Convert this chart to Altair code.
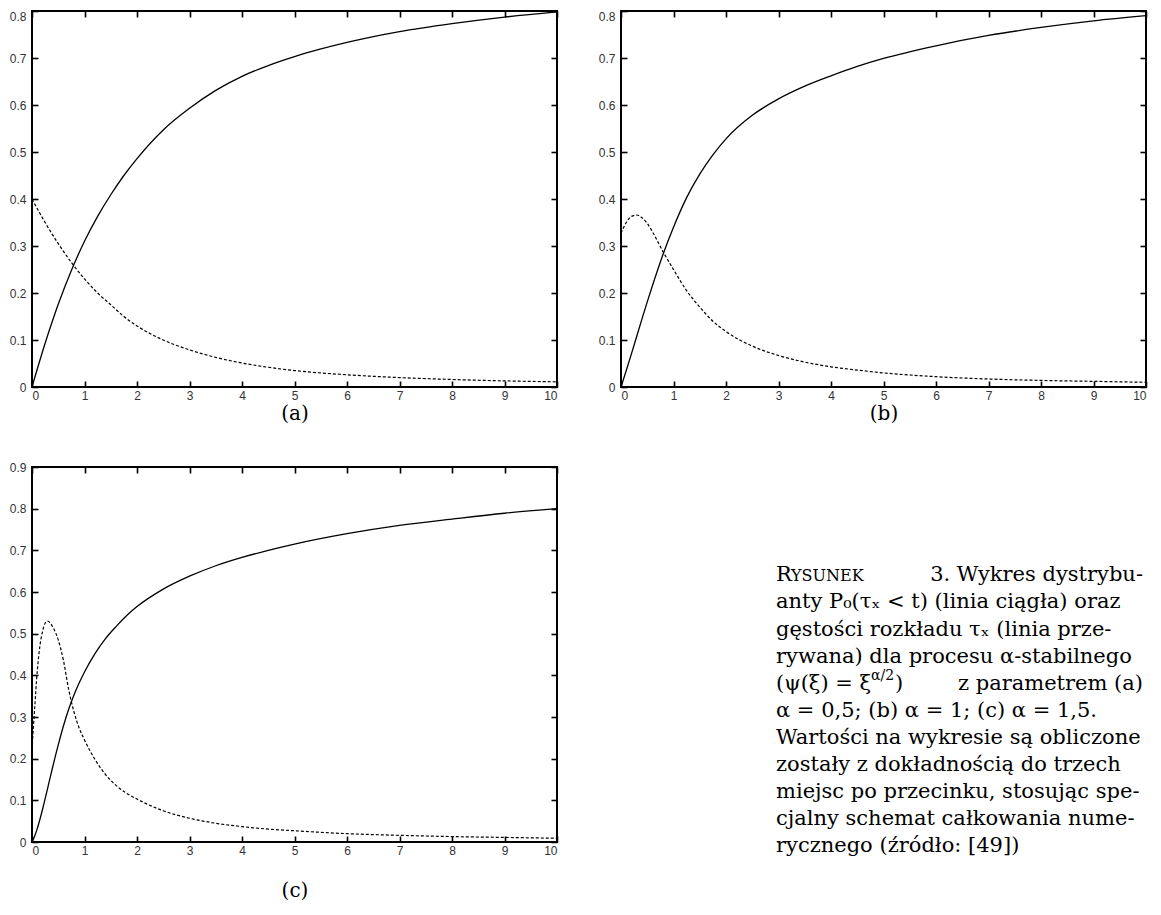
import altair as alt
import pandas as pd

# ---------------- data ----------------
x_a = [0, 0.25, 0.5, 0.75, 1, 1.25, 1.5, 1.75, 2, 2.5, 3, 3.5, 4, 4.5, 5, 6, 7, 8, 9, 10]
cdf_a = [0, 0.093, 0.176, 0.248, 0.31, 0.363, 0.409, 0.45, 0.486, 0.547, 0.593, 0.631,
         0.661, 0.684, 0.703, 0.733, 0.756, 0.773, 0.787, 0.798]
pdf_a = [0.40, 0.35, 0.305, 0.265, 0.23, 0.20, 0.175, 0.15, 0.13, 0.10, 0.079, 0.063,
         0.051, 0.042, 0.035, 0.026, 0.02, 0.016, 0.013, 0.011]

x_b = [0, 0.1, 0.2, 0.3, 0.4, 0.5, 0.6, 0.8, 1, 1.25, 1.5, 1.75, 2, 2.5, 3, 3.5, 4, 4.5,
       5, 6, 7, 8, 9, 10]
cdf_b = [0, 0.035, 0.071, 0.108, 0.145, 0.181, 0.216, 0.282, 0.34, 0.403, 0.453, 0.494,
         0.528, 0.578, 0.613, 0.64, 0.662, 0.682, 0.699, 0.726, 0.748, 0.765, 0.779, 0.79]
pdf_b = [0.327, 0.35, 0.363, 0.366, 0.36, 0.348, 0.33, 0.288, 0.25, 0.205, 0.17, 0.14,
         0.118, 0.087, 0.067, 0.053, 0.043, 0.036, 0.03, 0.022, 0.017, 0.014, 0.012, 0.01]

x_c = [0, 0.05, 0.1, 0.15, 0.2, 0.25, 0.3, 0.35, 0.4, 0.5, 0.6, 0.7, 0.8, 0.9, 1, 1.2,
       1.4, 1.6, 1.8, 2, 2.5, 3, 3.5, 4, 4.5, 5, 6, 7, 8, 9, 10]
cdf_c = [0, 0.014, 0.032, 0.054, 0.078, 0.104, 0.13, 0.157, 0.183, 0.233, 0.279, 0.319,
         0.353, 0.382, 0.408, 0.452, 0.488, 0.517, 0.543, 0.565, 0.607, 0.638, 0.663,
         0.683, 0.70, 0.715, 0.74, 0.76, 0.775, 0.789, 0.80]
pdf_c = [0.223, 0.32, 0.41, 0.47, 0.505, 0.525, 0.53, 0.525, 0.515, 0.485, 0.435, 0.365,
         0.312, 0.273, 0.245, 0.198, 0.162, 0.136, 0.117, 0.103, 0.075, 0.057, 0.045,
         0.037, 0.031, 0.027, 0.02, 0.016, 0.013, 0.011, 0.009]

x_ticks = [0, 1, 2, 3, 4, 5, 6, 7, 8, 9, 10]
y_ticks_ab = [0, 0.1, 0.2, 0.3, 0.4, 0.5, 0.6, 0.7, 0.8]
y_ticks_c = [0, 0.1, 0.2, 0.3, 0.4, 0.5, 0.6, 0.7, 0.8, 0.9]

panel_labels = ["(a)", "(b)", "(c)"]

caption_lines = [
    "",
    "anty P\u2080(\u03c4\u2093 < t) (linia ci\u0105g\u0142a) oraz",
    "g\u0119sto\u015bci rozk\u0142adu \u03c4\u2093 (linia prze-",
    "rywana) dla procesu \u03b1-stabilnego",
    "",
    "\u03b1 = 0,5; (b) \u03b1 = 1; (c) \u03b1 = 1,5.",
    "Warto\u015bci na wykresie s\u0105 obliczone",
    "zosta\u0142y z dok\u0142adno\u015bci\u0105 do trzech",
    "miejsc po przecinku, stosuj\u0105c spe-",
    "cjalny schemat ca\u0142kowania nume-",
    "rycznego (\u017ar\u00f3d\u0142o: [49])",
]
cap_first_big = "R"
cap_first_small = "YSUNEK"
cap_first_rest = "3. Wykres dystrybu-"
cap5_left = "(\u03c8(\u03be) = \u03be"
cap5_sup = "\u03b1/2"
cap5_paren = ")"
cap5_right = "z parametrem (a)"

# ---------------- styling ----------------
W = 525
SERIF = "DejaVu Serif"
SANS = "Liberation Sans"
TICK = 6


def panel(x, cdf, pdf, ymax, yticks, label, height, title_pad, flush_top):
    df = pd.DataFrame({"x": x, "cdf": cdf, "pdf": pdf})
    xscale = alt.Scale(domain=[0, 10], nice=False, zero=False)
    yscale = alt.Scale(domain=[0, ymax], nice=False)
    tick_kw = dict(ticks=True, tickSize=TICK, tickColor="#000000", tickWidth=1.6,
                   tickOpacity=1, offset=-TICK, domain=False, grid=False)
    xaxis = alt.Axis(values=x_ticks, orient="bottom",
                     labelFont=SANS, labelFontSize=12, labelColor="#333333",
                     labelPadding=3, title=label, titleFont=SERIF, titleFontSize=20,
                     titleFontWeight="normal", titleColor="black",
                     titlePadding=title_pad, **tick_kw)
    ykw = {}
    if flush_top:
        ykw["labelBaseline"] = {"condition": {"test": f"datum.value >= {ymax - 0.01}",
                                              "value": "top"},
                                "value": "middle"}
    yaxis = alt.Axis(values=yticks, orient="left",
                     labelFont=SANS, labelFontSize=12, labelColor="#333333",
                     labelPadding=6, title=None,
                     labelExpr="datum.value == 0 ? '0' : format(datum.value, '.1f')",
                     **tick_kw, **ykw)
    xaxis_top = alt.Axis(values=x_ticks, orient="top", labels=False, title=None,
                         **tick_kw)
    yaxis_right = alt.Axis(values=yticks, orient="right", labels=False, title=None,
                           **tick_kw)

    base = alt.Chart(df)
    solid = base.mark_line(color="black", strokeWidth=1.3, interpolate="monotone").encode(
        x=alt.X("x:Q", scale=xscale, axis=xaxis),
        y=alt.Y("cdf:Q", scale=yscale, axis=yaxis))
    dashed = base.mark_line(color="black", strokeWidth=1.2, strokeDash=[3, 2],
                            interpolate="monotone").encode(
        x=alt.X("x:Q", scale=xscale, axis=xaxis_top),
        y=alt.Y("pdf:Q", scale=yscale, axis=yaxis_right))
    return alt.layer(solid, dashed).resolve_axis(
        x="independent", y="independent").properties(
        width=W, height=height,
        view=alt.ViewBackground(stroke="black", strokeWidth=2))


pa = panel(x_a, cdf_a, pdf_a, 0.8, y_ticks_ab, panel_labels[0], 376, 2, True)
pb = panel(x_b, cdf_b, pdf_b, 0.8, y_ticks_ab, panel_labels[1], 376, 2, True)
pc = panel(x_c, cdf_c, pdf_c, 0.9, y_ticks_c, panel_labels[2], 375, 24, False)

# ---------------- caption ----------------
CAP_H = 375
CAP_L = 155
CAP_R = 522
FS = 21
yscale_cap = alt.Scale(domain=[-4.0, 9.84], reverse=True, nice=False, zero=False)


def capY():
    return alt.Y("line:Q", scale=yscale_cap, axis=None)


cap_df = pd.DataFrame({"line": list(range(len(caption_lines))), "text": caption_lines})
cap_main = alt.Chart(cap_df).mark_text(
    font=SERIF, fontSize=FS, align="left", baseline="middle", color="black").encode(
    x=alt.value(CAP_L), y=capY(), text="text:N")


def seg(txt, line, size, align, xpos, dx=0, dy=0):
    d = pd.DataFrame({"line": [line], "text": [txt]})
    return alt.Chart(d).mark_text(font=SERIF, fontSize=size, align=align,
                                  baseline="middle", color="black", dx=dx, dy=dy).encode(
        x=alt.value(xpos), y=capY(), text="text:N")


c1 = seg(cap_first_big, 0, FS, "left", CAP_L)
c2 = seg(cap_first_small, 0, 16, "left", CAP_L, dx=15, dy=1)
c3 = seg(cap_first_rest, 0, FS, "right", CAP_R)
c4 = seg(cap5_left, 4, FS, "left", CAP_L)
c5 = seg(cap5_sup, 4, 14, "left", CAP_L, dx=95, dy=-8)
c6 = seg(cap5_paren, 4, FS, "left", CAP_L, dx=119)
c7 = seg(cap5_right, 4, FS, "right", CAP_R)

caption = alt.layer(cap_main, c1, c2, c3, c4, c5, c6, c7).properties(
    width=W, height=CAP_H, view=alt.ViewBackground(strokeOpacity=0))

chart = alt.concat(pa, pb, pc, caption, columns=2,
                   spacing={"row": 36, "column": 36}).properties(
    padding={"left": 0, "top": 0, "right": 0, "bottom": 0},
    background="white")

chart.save("out.html", embed_options={"renderer": "svg", "actions": False})
